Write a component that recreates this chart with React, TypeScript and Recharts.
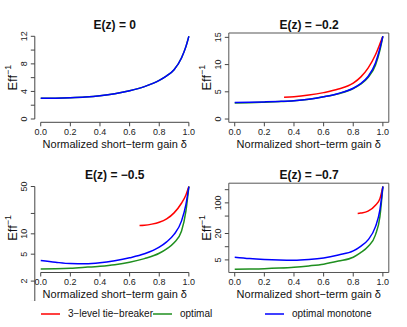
import { LineChart, Line, XAxis, YAxis, ReferenceLine, ReferenceArea } from "recharts";

const FONT = '"Liberation Sans", Arial, Helvetica, sans-serif';

// shared grid of normalized short-term gain values
const deltaGrid = [0, 0.1, 0.2, 0.3, 0.4, 0.5, 0.6, 0.7, 0.8, 0.85, 0.9, 0.95, 0.98, 1];
const deltaTicks = [0, 0.2, 0.4, 0.6, 0.8, 1];

const seriesNames = ["3−level tie−breaker", "optimal", "optimal monotone"];
const seriesColors = ["#ff0000", "#1f8f1f", "#0000ff"];

// E(z) = 0
const ez0Optimal = [3.0, 3.02, 3.08, 3.18, 3.36, 3.65, 4.09, 4.7, 5.6, 6.25, 7.15, 8.86, 10.5, 12.0];
const ez0Monotone = [3.0, 3.02, 3.08, 3.18, 3.36, 3.65, 4.09, 4.7, 5.6, 6.25, 7.15, 8.86, 10.5, 12.0];

// E(z) = -0.2
const ez2TieDelta = [0.333, 0.4, 0.5, 0.6, 0.7, 0.8, 0.85, 0.9, 0.95, 0.98, 1];
const ez2Tie = [4.0, 4.1, 4.4, 4.85, 5.5, 6.6, 7.7, 9.35, 11.8, 13.8, 15.2];
const ez2Optimal = [2.95, 3.0, 3.1, 3.2, 3.36, 3.63, 4.08, 4.65, 5.6, 6.4, 7.6, 9.9, 12.6, 15.2];
const ez2Monotone = [3.05, 3.08, 3.15, 3.24, 3.38, 3.65, 4.1, 4.7, 5.66, 6.5, 7.8, 10.3, 13.0, 15.2];

// E(z) = -0.5
const ez5TieDelta = [0.667, 0.7, 0.75, 0.8, 0.85, 0.9, 0.95, 0.98, 1];
const ez5Tie = [13.3, 13.4, 13.9, 14.8, 16.6, 20.4, 28.3, 37.5, 50];
const ez5Optimal = [3.03, 3.05, 3.1, 3.2, 3.32, 3.5, 3.8, 4.3, 5.16, 6.0, 7.36, 10.9, 21.6, 50];
const ez5Monotone = [4.03, 3.8, 3.63, 3.6, 3.72, 4.0, 4.42, 5.06, 6.34, 7.6, 9.8, 15.4, 27, 50];

// E(z) = -0.7
const ez7TieDelta = [0.83, 0.85, 0.9, 0.95, 0.98, 1];
const ez7Tie = [57.3, 58.5, 64.6, 88.6, 125, 236];
const ez7Optimal = [3.07, 3.1, 3.15, 3.25, 3.4, 3.65, 4.0, 4.7, 5.76, 7.3, 10.06, 18.6, 48.6, 236];
const ez7Monotone = [5.76, 5.35, 5.1, 4.95, 4.9, 5.1, 5.55, 6.5, 8.0, 10.2, 14.3, 28.7, 69, 236];

const X_DOMAIN: [number, number] = [-0.04, 1.04];
const PLOT_W = 160;
const PLOT_H = 89.3;
const Y_AXIS_W = 34.8;
const RIGHT_M = 9;

const pts = (xs: number[], ys: number[]) => xs.map((d, i) => ({ delta: d, eff: ys[i] }));

function YTick(props: any) {
  const { x, y, payload, labels } = props;
  if (!labels.includes(payload.value)) return null;
  return (
    <text x={x} y={y} transform={`rotate(-90 ${x} ${y})`} textAnchor="middle" fontSize={9} fill="#222">
      {payload.value}
    </text>
  );
}

function YTitle(props: any) {
  const vb = props.viewBox;
  const cx = vb.x + 17.5;
  const cy = vb.y + vb.height / 2;
  return (
    <text x={cx} y={cy} transform={`rotate(-90 ${cx} ${cy})`} textAnchor="middle" fontSize={13} fill="#111">
      Eff<tspan dy={-6} fontSize={9}>−1</tspan>
    </text>
  );
}

function XTitle(props: any) {
  const vb = props.viewBox;
  return (
    <text x={vb.x + vb.width / 2} y={vb.y + 26} textAnchor="middle" fontSize={11} fill="#111">
      Normalized short−term gain δ
    </text>
  );
}

interface PanelProps {
  title: string;
  left: number;
  top: number;
  height: number;
  plotTop: number;
  titleTop: number;
  boxed: boolean;
  yScale: "linear" | "log";
  yDomain: [number, number];
  yTicks: number[];
  yLabels: number[];
  tie?: { delta: number; eff: number }[];
  optimal: { delta: number; eff: number }[];
  monotone: { delta: number; eff: number }[];
}

function Panel(p: PanelProps) {
  const width = Y_AXIS_W + PLOT_W + RIGHT_M;
  const xAxisH = p.height - p.plotTop - PLOT_H;
  return (
    <div style={{ position: "absolute", left: p.left, top: p.top, width, height: p.height }}>
      <div
        style={{
          position: "absolute",
          left: Y_AXIS_W,
          width: PLOT_W,
          top: p.titleTop,
          textAlign: "center",
          fontWeight: "bold",
          fontSize: 12,
          lineHeight: "12px",
        }}
      >
        {p.title}
      </div>
      <LineChart width={width} height={p.height} margin={{ top: p.plotTop, right: RIGHT_M, bottom: 0, left: 0 }}>
        <XAxis
          dataKey="delta"
          type="number"
          domain={X_DOMAIN}
          ticks={deltaTicks}
          interval={0}
          tickFormatter={(v: number) => v.toFixed(1)}
          tick={{ fontSize: 9, fill: "#222" }}
          tickSize={4}
          tickMargin={2}
          axisLine={false}
          tickLine={{ stroke: "#444" }}
          height={xAxisH}
          label={<XTitle />}
        />
        <YAxis
          type="number"
          scale={p.yScale}
          domain={p.yDomain}
          allowDataOverflow
          ticks={p.yTicks}
          interval={0}
          tick={<YTick labels={p.yLabels} />}
          tickSize={4}
          tickMargin={3.5}
          axisLine={false}
          tickLine={{ stroke: "#444" }}
          width={Y_AXIS_W}
          label={<YTitle />}
        />
        {p.boxed ? (
          <ReferenceArea
            x1={X_DOMAIN[0]}
            x2={X_DOMAIN[1]}
            y1={p.yDomain[0]}
            y2={p.yDomain[1]}
            fill="#fff"
            fillOpacity={0}
            stroke="#555"
            strokeWidth={1}
            ifOverflow="visible"
          />
        ) : (
          <>
            <ReferenceLine
              segment={[
                { x: X_DOMAIN[0], y: p.yTicks[0] },
                { x: X_DOMAIN[0], y: p.yTicks[p.yTicks.length - 1] },
              ]}
              stroke="#444"
              ifOverflow="visible"
            />
            <ReferenceLine
              segment={[
                { x: deltaTicks[0], y: p.yDomain[0] },
                { x: deltaTicks[deltaTicks.length - 1], y: p.yDomain[0] },
              ]}
              stroke="#444"
              ifOverflow="visible"
            />
          </>
        )}
        {p.tie && (
          <Line data={p.tie} dataKey="eff" type="monotone" stroke={seriesColors[0]} strokeWidth={1.5} dot={false} isAnimationActive={false} />
        )}
        <Line data={p.optimal} dataKey="eff" type="monotone" stroke={seriesColors[1]} strokeWidth={1.5} dot={false} isAnimationActive={false} />
        <Line data={p.monotone} dataKey="eff" type="monotone" stroke={seriesColors[2]} strokeWidth={1.5} dot={false} isAnimationActive={false} />
      </LineChart>
    </div>
  );
}

function ChartLegend() {
  return (
    <div style={{ position: "absolute", left: 41, top: 307, display: "flex", fontSize: 10, lineHeight: "14px" }}>
      {seriesNames.map((name, i) => (
        <div key={name} style={{ width: 112, display: "flex", alignItems: "center", whiteSpace: "nowrap" }}>
          <svg width={19} height={4} style={{ display: "block" }}>
            <line x1={0} x2={19} y1={2} y2={2} stroke={seriesColors[i]} strokeWidth={1.5} />
          </svg>
          <span style={{ marginLeft: 8 }}>{name}</span>
        </div>
      ))}
    </div>
  );
}

export default function App() {
  return (
    <div
      style={{
        position: "absolute",
        left: 0,
        top: 0,
        width: 407,
        height: 327,
        background: "#fff",
        fontFamily: FONT,
        color: "#111",
        overflow: "hidden",
      }}
    >
      <Panel
        title="E(z) = 0"
        left={0}
        top={0}
        height={155}
        plotTop={33}
        titleTop={18.8}
        boxed={false}
        yScale="linear"
        yDomain={[-0.48, 12.48]}
        yTicks={[0, 2, 4, 6, 8, 10, 12]}
        yLabels={[0, 4, 8, 12]}
        optimal={pts(deltaGrid, ez0Optimal)}
        monotone={pts(deltaGrid, ez0Monotone)}
      />
      <Panel
        title="E(z) = −0.2"
        left={194.3}
        top={0}
        height={155}
        plotTop={33}
        titleTop={18.8}
        boxed
        yScale="linear"
        yDomain={[-0.6, 15.8]}
        yTicks={[0, 5, 10, 15]}
        yLabels={[0, 5, 10, 15]}
        tie={pts(ez2TieDelta, ez2Tie)}
        optimal={pts(deltaGrid, ez2Optimal)}
        monotone={pts(deltaGrid, ez2Monotone)}
      />
      <Panel
        title="E(z) = −0.5"
        left={0}
        top={150}
        height={150.5}
        plotTop={33.2}
        titleTop={19.3}
        boxed={false}
        yScale="log"
        yDomain={[2.68, 56]}
        yTicks={[1, 2, 5, 10, 20, 50]}
        yLabels={[2, 5, 10, 50]}
        tie={pts(ez5TieDelta, ez5Tie)}
        optimal={pts(deltaGrid, ez5Optimal)}
        monotone={pts(deltaGrid, ez5Monotone)}
      />
      <Panel
        title="E(z) = −0.7"
        left={194.3}
        top={150}
        height={150.5}
        plotTop={33.2}
        titleTop={19.3}
        boxed
        yScale="log"
        yDomain={[2.58, 281]}
        yTicks={[5, 10, 20, 50, 100, 200]}
        yLabels={[5, 20, 100]}
        tie={pts(ez7TieDelta, ez7Tie)}
        optimal={pts(deltaGrid, ez7Optimal)}
        monotone={pts(deltaGrid, ez7Monotone)}
      />
      <ChartLegend />
    </div>
  );
}
